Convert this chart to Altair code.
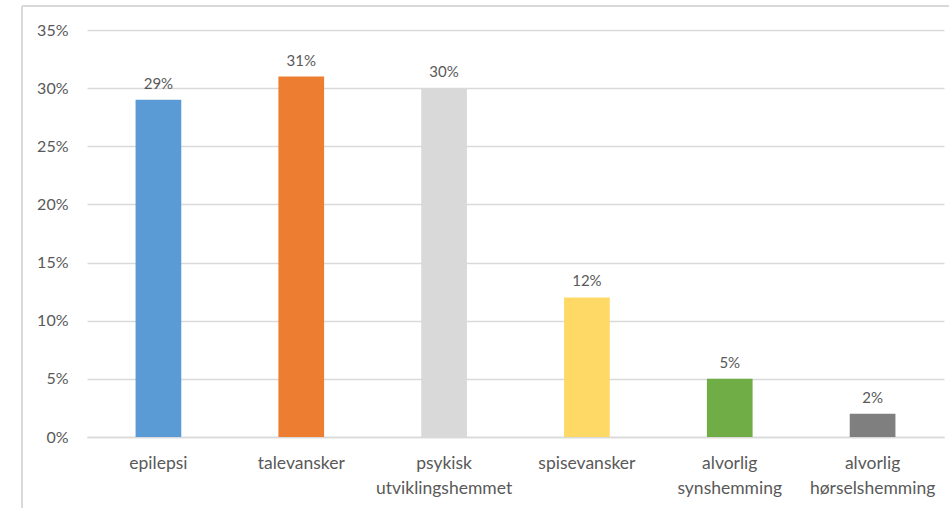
import altair as alt
import pandas as pd

categories = ["epilepsi", "talevansker", "psykisk utviklingshemmet", "spisevansker",
              "alvorlig synshemming", "alvorlig hørselshemming"]
values = [0.29, 0.31, 0.30, 0.12, 0.05, 0.02]
labels = ["29%", "31%", "30%", "12%", "5%", "2%"]
colors = ["#5B9BD5", "#ED7D31", "#D9D9D9", "#FFD966", "#70AD47", "#7F7F7F"]

df = pd.DataFrame({"cat": categories, "val": values, "lab": labels})

FONT = "Lato"
TXT = "#595959"

x = alt.X("cat:N", sort=categories, title=None,
          scale=alt.Scale(paddingInner=0.68, paddingOuter=0.34),
          axis=alt.Axis(labelAngle=0, labelExpr="split(datum.label, ' ')",
                        labelFontSize=17.5, labelFont=FONT, labelColor=TXT,
                        labelPadding=17, labelLineHeight=25, ticks=False,
                        domain=True, domainColor="#D9D9D9", domainWidth=1.5,
                        grid=False))
y = alt.Y("val:Q", title=None,
          scale=alt.Scale(domain=[0, 0.35], nice=False),
          axis=alt.Axis(format=".0%", values=[0, .05, .10, .15, .20, .25, .30, .35],
                        labelFontSize=16, labelFont=FONT, labelColor=TXT,
                        labelPadding=19, ticks=False, domain=False,
                        grid=True, gridColor="#D9D9D9", gridWidth=1.5))

bars = alt.Chart(df).mark_bar().encode(
    x=x, y=y,
    color=alt.Color("cat:N", sort=categories,
                    scale=alt.Scale(domain=categories, range=colors), legend=None),
)
text = alt.Chart(df).mark_text(baseline="bottom", dy=-8, fontSize=15,
                               font=FONT, color=TXT).encode(
    x=alt.X("cat:N", sort=categories), y="val:Q", text="lab:N")

frame_left = alt.Chart(df).mark_rule(color="#D9D9D9", strokeWidth=1.5, clip=False).encode(
    x=alt.value(-65), y=alt.value(-24), y2=alt.value(520))
frame_top = alt.Chart(df).mark_rule(color="#D9D9D9", strokeWidth=1.5, clip=False).encode(
    x=alt.value(-65), x2=alt.value(900), y=alt.value(-24))

chart = alt.layer(frame_left, frame_top, bars, text).properties(
    width=857, height=407,
    background="white",
    autosize=alt.AutoSizeParams(type="none"),
    padding={"left": 87, "top": 30, "right": 5, "bottom": 71},
).configure_view(strokeWidth=0, stroke="transparent")

chart.save("out.html", embed_options={"renderer": "svg", "actions": False})
